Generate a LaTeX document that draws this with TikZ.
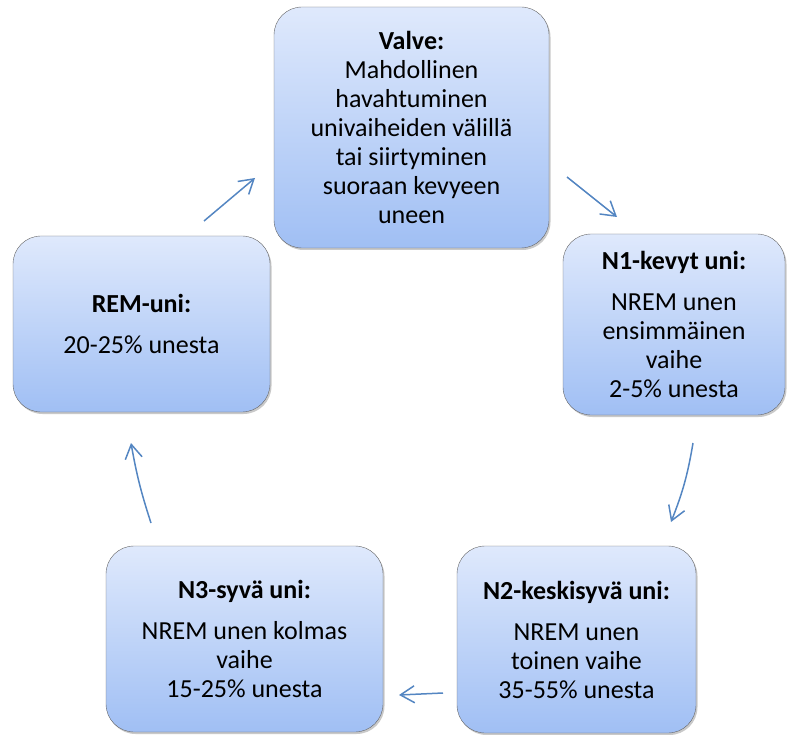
\documentclass[tikz,border=0pt]{standalone}
\usepackage{fontspec}
\setmainfont{Carlito}
\usetikzlibrary{arrows.meta}
\usetikzlibrary{shadows}
\usetikzlibrary{positioning}
\definecolor{stagetop}{RGB}{223,233,252}
\definecolor{stagebottom}{RGB}{160,191,244}
\definecolor{cycleblue}{RGB}{84,134,194}

\begin{document}
\begin{tikzpicture}[x=1pt,y=-1pt,
    stage/.style={draw=black!60, rounded corners=28pt, top color=stagetop,
        bottom color=stagebottom, align=center, inner sep=0pt,
        font=\fontsize{26}{29}\selectfont,
        drop shadow={shadow xshift=1.5pt, shadow yshift=-2pt, opacity=0.3, fill=black!70}},
    cycle/.style={draw=cycleblue, line width=1.5pt, -{Straight Barb[length=14pt,width=17pt]}}]
    \useasboundingbox (0,0) rectangle (787,735);

    % Stage boxes
    \node[stage, minimum width=275pt, minimum height=241pt] (valve) at (411.5,127.5)
        {\textbf{Valve:}\\Mahdollinen\\havahtuminen\\univaiheiden välillä\\tai siirtyminen\\suoraan kevyeen\\uneen};
    \node[stage, minimum width=222pt, minimum height=181pt] (n1) at (674,324.5)
        {\textbf{N1-kevyt uni:}\\[12pt]NREM unen\\ensimmäinen\\vaihe\\2-5\% unesta};
    \node[stage, minimum width=239pt, minimum height=187pt] (n2) at (576.5,639.5)
        {\textbf{N2-keskisyvä uni:}\\[12pt]NREM unen\\toinen vaihe\\35-55\% unesta};
    \node[stage, minimum width=277pt, minimum height=186pt] (n3) at (244.5,639)
        {\textbf{N3-syvä uni:}\\[12pt]NREM unen kolmas\\vaihe\\15-25\% unesta};
    \node[stage, minimum width=257pt, minimum height=176pt] (rem) at (141.5,324)
        {\textbf{REM-uni:}\\[12pt]20-25\% unesta};

    % Arrow ends
    \coordinate (remout) at (204,221);
    \coordinate (valvein) at (255,178);
    \coordinate (valveout) at (567,177);
    \coordinate (n1in) at (617,217);
    \coordinate (n1out) at (693,443);
    \coordinate (n2in) at (671,522);
    \coordinate (n2out) at (443,693);
    \coordinate (n3in) at (399,695);
    \coordinate (n3out) at (151,523);
    \coordinate (remin) at (131,443);

    % Cycle
    \draw[cycle] (remout) -- (valvein);
    \draw[cycle] (valveout) -- (n1in);
    \draw[cycle] (n1out) to[bend left=6] (n2in);
    \draw[cycle] (n2out) -- (n3in);
    \draw[cycle] (n3out) to[bend left=4] (remin);
\end{tikzpicture}
\end{document}
